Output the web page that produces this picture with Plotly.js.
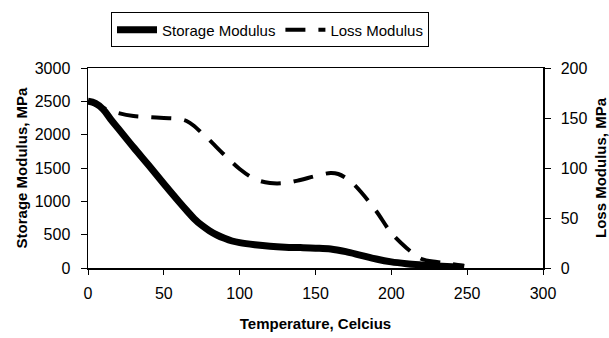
<!DOCTYPE html>
<html>
<head>
<meta charset="utf-8">
<script src="https://cdn.plot.ly/plotly-3.0.1.min.js"></script>
<style>html,body{margin:0;padding:0;background:#fff;}#chart{width:609px;height:338px;}</style>
</head>
<body>
<div id="chart"></div>
<script>
// Storage modulus (left axis, MPa) vs temperature (Celcius)
var storageTemp = [0, 5, 10, 15, 20, 30, 40, 50, 60, 65, 70, 75, 80, 85, 90, 95, 100, 110, 120, 130, 140, 150, 160, 170, 180, 190, 200, 210, 220, 230, 240, 248];
var storageMod  = [2500, 2470, 2380, 2230, 2090, 1810, 1540, 1265, 995, 865, 740, 640, 560, 495, 445, 405, 380, 348, 325, 312, 306, 298, 285, 245, 190, 135, 92, 65, 46, 30, 18, 10];
// Loss modulus (right axis, MPa) vs temperature (Celcius)
var lossTemp = [0, 5, 10, 20, 30, 40, 50, 60, 65, 70, 75, 80, 90, 100, 110, 120, 130, 140, 150, 160, 165, 170, 175, 180, 190, 200, 210, 215, 220, 230, 240, 248];
var lossMod  = [167, 163, 160, 155, 152, 151, 150, 149, 147, 142, 135, 128, 113, 99, 89, 85, 85, 88, 92, 95, 94, 90, 84, 76, 57, 35, 20, 14, 9, 6, 4, 2];

var xTicks = [0, 50, 100, 150, 200, 250, 300];
var yLeftTicks = [0, 500, 1000, 1500, 2000, 2500, 3000];
var yRightTicks = [0, 50, 100, 150, 200];

var FONT = 'Liberation Sans, Arial, sans-serif';

var traces = [
  {x: storageTemp, y: storageMod, name: 'Storage Modulus', type: 'scatter', mode: 'lines',
   line: {color: '#000', width: 7, shape: 'spline'}, yaxis: 'y'},
  {x: lossTemp, y: lossMod, name: 'Loss Modulus', type: 'scatter', mode: 'lines',
   line: {color: '#000', width: 4, dash: '20px,13px', shape: 'spline'}, yaxis: 'y2'}
];

var layout = {
  width: 609, height: 338,
  margin: {l: 88, r: 66, t: 63, b: 70},
  paper_bgcolor: '#fff', plot_bgcolor: '#fff',
  font: {family: FONT, size: 16, color: '#000'},
  showlegend: true,
  legend: {orientation: 'h', x: 0.4, xanchor: 'center', y: 1.278, yanchor: 'top',
           bordercolor: '#000', borderwidth: 1, bgcolor: '#fff',
           font: {family: FONT, size: 15, color: '#000'}, itemwidth: 40, tracegroupgap: 0},
  xaxis: {range: [0, 300], tickvals: xTicks, ticktext: xTicks.map(String), ticks: 'outside', ticklen: 5,
          tickcolor: '#000', showline: true, linecolor: '#000', linewidth: 1.5, mirror: true,
          ticklabelstandoff: 5, showgrid: false, zeroline: false,
          title: {text: '<b>Temperature, Celcius</b>', font: {family: FONT, size: 15}, standoff: 18}},
  yaxis: {range: [0, 3000], tickvals: yLeftTicks, ticktext: yLeftTicks.map(String), ticks: 'outside', ticklen: 6,
          tickcolor: '#000', showline: true, linecolor: '#000', linewidth: 1.5,
          ticklabelstandoff: 7, showgrid: false, zeroline: false,
          title: {text: '<b>Storage Modulus, MPa</b>', font: {family: FONT, size: 15}, standoff: 3}},
  yaxis2: {range: [0, 200], tickvals: yRightTicks, ticktext: yRightTicks.map(String), ticks: 'outside', ticklen: 6,
           tickcolor: '#000', showline: true, linecolor: '#000', linewidth: 1.5,
           ticklabelstandoff: 7, overlaying: 'y', side: 'right', showgrid: false, zeroline: false,
           title: {text: '<b>Loss Modulus, MPa</b>', font: {family: FONT, size: 15}, standoff: 11}},
  yaxis3: {range: [0, 200], tickvals: yRightTicks, ticks: 'inside', ticklen: 6, tickcolor: '#000',
           showticklabels: false, showline: false, overlaying: 'y', side: 'right',
           showgrid: false, zeroline: false}
};

Plotly.newPlot('chart', traces, layout, {displayModeBar: false, staticPlot: true});
</script>
</body>
</html>
